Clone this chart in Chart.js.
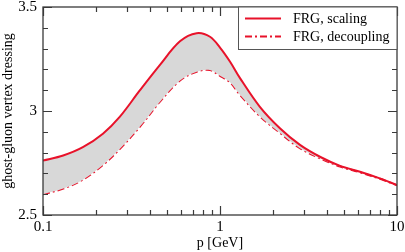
<!DOCTYPE html>
<html>
<head>
<meta charset="utf-8">
<script src="https://cdn.jsdelivr.net/npm/chart.js@4.4.1/dist/chart.umd.min.js"></script>
<style>
  html, body { margin: 0; padding: 0; background: #fff; }
  #c { display: block; }
</style>
</head>
<body>
<canvas id="c" width="405" height="252"></canvas>
<script>
// ---- data ----
const momentum = [0.1, 0.13, 0.168, 0.218, 0.272, 0.353, 0.458, 0.594, 0.738, 0.878, 1.0, 1.14, 1.3, 1.68, 2.18, 2.83, 3.67, 4.77, 6.18, 8.0, 10];
const scaling = [2.762, 2.786, 2.826, 2.891, 2.973, 3.100, 3.222, 3.335, 3.374, 3.357, 3.305, 3.237, 3.157, 3.020, 2.917, 2.837, 2.780, 2.736, 2.708, 2.676, 2.644];
const decoupling = [2.600, 2.627, 2.670, 2.740, 2.818, 2.925, 3.045, 3.147, 3.189, 3.197, 3.169, 3.138, 3.077, 2.975, 2.895, 2.821, 2.773, 2.733, 2.705, 2.674, 2.643];
const seriesLabels = ['FRG, scaling', 'FRG, decoupling'];
const xMajorTicks = [0.1, 1, 10];
const xMinorTicks = [0.2, 0.3, 0.4, 0.5, 0.6, 0.7, 0.8, 0.9, 2, 3, 4, 5, 6, 7, 8, 9];
const yMajorTicks = [2.5, 3, 3.5];
const yMinorTicks = [2.6, 2.7, 2.8, 2.9, 3.1, 3.2, 3.3, 3.4];
const xTitle = 'p [GeV]';
const yTitle = 'ghost-gluon vertex dressing';

const RED = 'rgb(232,18,42)';
const FRAME = '#3a3a3a';
const FONT = 'Liberation Serif';

const toPts = (xs, ys) => xs.map((x, i) => ({ x: x, y: ys[i] }));

const frameTicks = {
  id: 'frameTicks',
  afterDatasetsDraw(chart) {
    const { ctx, chartArea: a, scales } = chart;
    const xs = scales.x, ys = scales.y;
    ctx.save();
    ctx.strokeStyle = FRAME;
    ctx.lineWidth = 1.2;
    ctx.beginPath();
    const tick = (v, len, isX) => {
      if (isX) {
        const px = Math.round(xs.getPixelForValue(v)) + 0.5;
        ctx.moveTo(px, a.bottom); ctx.lineTo(px, a.bottom - len);
        ctx.moveTo(px, a.top); ctx.lineTo(px, a.top + len);
      } else {
        const py = Math.round(ys.getPixelForValue(v)) + 0.5;
        ctx.moveTo(a.left, py); ctx.lineTo(a.left + len, py);
        ctx.moveTo(a.right, py); ctx.lineTo(a.right - len, py);
      }
    };
    xMajorTicks.forEach(v => tick(v, 9, true));
    xMinorTicks.forEach(v => tick(v, 5, true));
    yMajorTicks.forEach(v => tick(v, 9, false));
    yMinorTicks.forEach(v => tick(v, 5, false));
    ctx.stroke();
    ctx.lineWidth = 1.3;
    ctx.strokeRect(a.left, a.top, a.right - a.left, a.bottom - a.top);

    // legend box
    const bx = 238, by = a.top, bw = a.right - bx, bh = 42;
    ctx.fillStyle = '#fff';
    ctx.fillRect(bx, by, bw, bh);
    ctx.lineWidth = 1;
    ctx.strokeStyle = '#555';
    ctx.strokeRect(bx + 0.5, by, bw - 0.5, bh + 0.5);
    ctx.font = '14px "' + FONT + '"';
    ctx.textBaseline = 'middle';
    ctx.textAlign = 'left';
    chart.data.datasets.forEach((ds, i) => {
      const yy = by + 11.5 + i * 18;
      ctx.strokeStyle = ds.borderColor;
      ctx.lineWidth = ds.borderWidth;
      ctx.setLineDash(ds.borderDash || []);
      ctx.beginPath();
      ctx.moveTo(245, yy); ctx.lineTo(281, yy);
      ctx.stroke();
      ctx.setLineDash([]);
      ctx.fillStyle = '#000';
      ctx.fillText(ds.label, 293, yy + 0.5);
    });
    ctx.restore();
  }
};

new Chart(document.getElementById('c'), {
  type: 'line',
  data: {
    datasets: [
      {
        label: seriesLabels[0],
        data: toPts(momentum, scaling),
        borderColor: RED,
        borderWidth: 2,
        pointRadius: 0,
        tension: 0.35,
        fill: '+1',
        backgroundColor: 'rgb(216,216,216)'
      },
      {
        label: seriesLabels[1],
        data: toPts(momentum, decoupling),
        borderColor: RED,
        borderWidth: 2,
        borderDash: [7, 3, 2, 3],
        pointRadius: 0,
        tension: 0.35,
        fill: false
      }
    ]
  },
  options: {
    responsive: false,
    animation: false,
    devicePixelRatio: 1,
    layout: { padding: { left: 0, top: 7, right: 8, bottom: 0 } },
    plugins: { legend: { display: false }, tooltip: { enabled: false } },
    scales: {
      x: {
        type: 'logarithmic',
        min: 0.1, max: 10,
        afterBuildTicks: s => { s.ticks = xMajorTicks.map(v => ({ value: v })); },
        afterFit: s => { s.height = 37; s.paddingLeft = 0; s.paddingRight = 0; },
        grid: { display: false, drawTicks: false },
        border: { display: false },
        ticks: {
          autoSkip: false, maxRotation: 0, padding: 3,
          color: '#000',
          font: { family: FONT, size: 15 },
          callback: v => String(v)
        },
        title: {
          display: true, text: xTitle, color: '#000',
          font: { family: FONT, size: 14 },
          padding: { top: 0, bottom: 0 }
        }
      },
      y: {
        min: 2.5, max: 3.5,
        afterBuildTicks: s => { s.ticks = yMajorTicks.map(v => ({ value: v })); },
        afterFit: s => { s.width = 43; s.paddingTop = 0; s.paddingBottom = 0; },
        grid: { display: false, drawTicks: false },
        border: { display: false },
        ticks: {
          autoSkip: false, padding: 6,
          color: '#000',
          font: { family: FONT, size: 15 },
          callback: v => String(v)
        },
        title: {
          display: true, text: yTitle, color: '#000',
          font: { family: FONT, size: 14 },
          padding: { top: 0, bottom: 0 }
        }
      }
    }
  },
  plugins: [frameTicks]
});
</script>
</body>
</html>
